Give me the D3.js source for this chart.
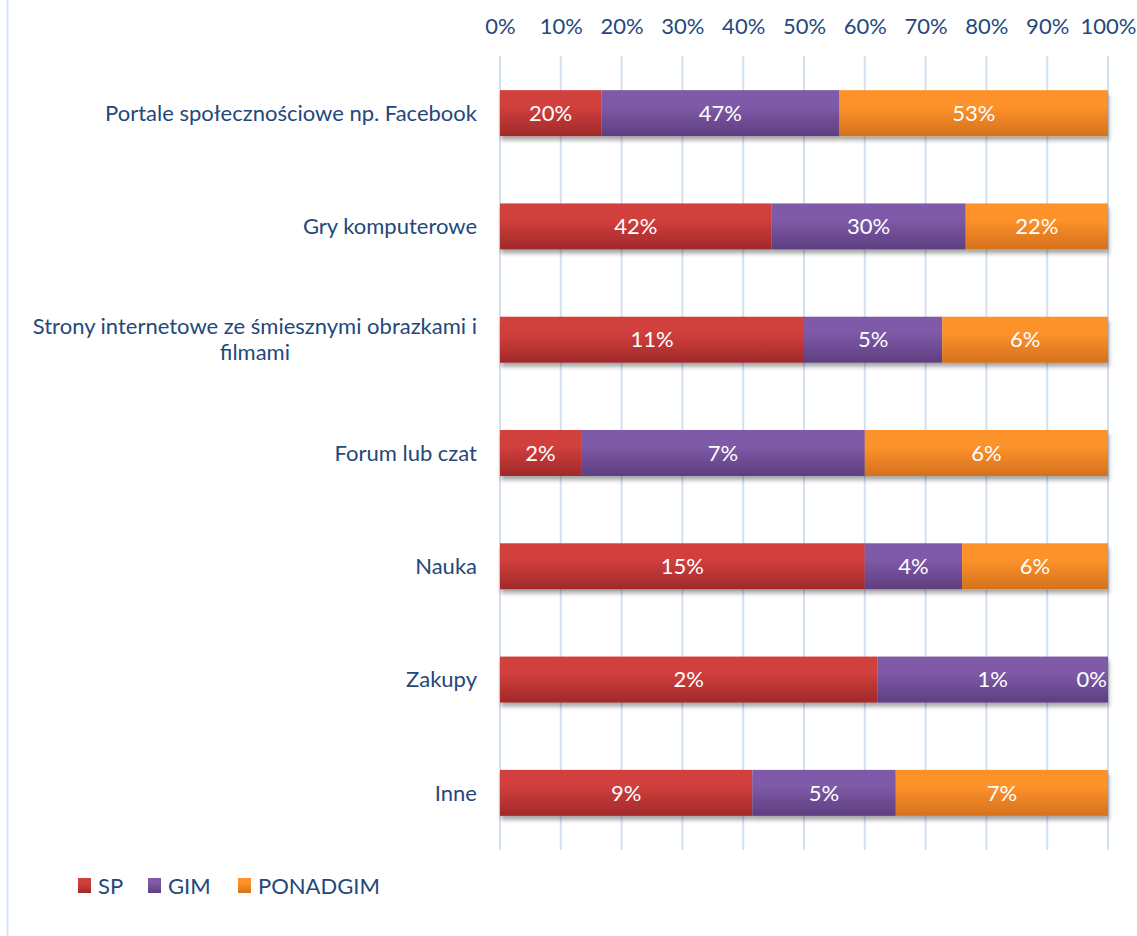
<!DOCTYPE html>
<html>
<head>
<meta charset="utf-8">
<script src="https://cdn.jsdelivr.net/npm/d3@7"></script>
<style>
  html, body { margin: 0; padding: 0; background: #fff; }
  svg { display: block; }
</style>
</head>
<body>
<svg id="chart" width="1137" height="936"></svg>
<script>
// Categories, top to bottom
const categories = [
  "Portale społecznościowe np. Facebook",
  "Gry komputerowe",
  "Strony internetowe ze śmiesznymi obrazkami i filmami",
  "Forum lub czat",
  "Nauka",
  "Zakupy",
  "Inne"
];
const seriesNames = ["SP", "GIM", "PONADGIM"];
// Share of answers per school level (percent)
const spValues       = [20, 42, 11, 2, 15, 1.8, 8.8];
const gimValues      = [47, 30, 5, 7, 4, 1.1, 5.0];
const ponadgimValues = [53, 22, 6, 6, 6, 0.0, 7.4];
const tickValues = [0, 0.1, 0.2, 0.3, 0.4, 0.5, 0.6, 0.7, 0.8, 0.9, 1.0];

const colors = {
  SP:       ["#d13f3d", "#a1292a"],
  GIM:      ["#7e5aa8", "#5e3e7f"],
  PONADGIM: ["#fe922b", "#d4711d"]
};
const textColor = "#24487a";
const font = "Lato, 'Open Sans', sans-serif";
const fontSize = 22;

const rows = categories.map((c, i) => ({
  category: c, SP: spValues[i], GIM: gimValues[i], PONADGIM: ponadgimValues[i]
}));

const svg = d3.select("#chart");

// Outer frame line on the left
svg.append("line")
  .attr("x1", 7.5).attr("x2", 7.5).attr("y1", 0).attr("y2", 936)
  .attr("stroke", "#d6e2f1").attr("stroke-width", 2);

const x = d3.scaleLinear().domain([0, 1]).range([500, 1108]);
const y = d3.scaleBand().domain(categories).range([56.5, 849.5]).paddingInner(0.594).paddingOuter(0.297);

const defs = svg.append("defs");
seriesNames.forEach(s => {
  const g = defs.append("linearGradient").attr("id", "grad-" + s)
    .attr("x1", 0).attr("y1", 0).attr("x2", 0).attr("y2", 1);
  g.append("stop").attr("offset", "0%").attr("stop-color", colors[s][0]);
  g.append("stop").attr("offset", "35%").attr("stop-color", colors[s][0]);
  g.append("stop").attr("offset", "100%").attr("stop-color", colors[s][1]);
});
const shadow = defs.append("filter").attr("id", "shadow")
  .attr("x", "-5%").attr("y", "-20%").attr("width", "110%").attr("height", "160%");
shadow.append("feDropShadow").attr("dx", 1).attr("dy", 4).attr("stdDeviation", 2.2)
  .attr("flood-color", "#000").attr("flood-opacity", 0.35);

// Vertical gridlines
svg.append("g").selectAll("line")
  .data(tickValues)
  .join("line")
  .attr("x1", d => x(d)).attr("x2", d => x(d))
  .attr("y1", 56).attr("y2", 850)
  .attr("stroke", "#d3e0f0").attr("stroke-width", 2);

// Top axis
const axis = svg.append("g")
  .attr("transform", "translate(0,34)")
  .call(d3.axisTop(x).tickValues(tickValues).tickFormat(d3.format(".0%")).tickSize(0).tickPadding(0));
axis.select(".domain").remove();
axis.selectAll("text")
  .attr("font-family", font).attr("font-size", fontSize).attr("fill", textColor)
  .attr("dy", 0);

// Stacked, normalised bars
const stack = d3.stack().keys(seriesNames).offset(d3.stackOffsetExpand);
const layers = stack(rows);

const barsG = svg.append("g").attr("filter", "url(#shadow)");
layers.forEach(layer => {
  barsG.append("g").selectAll("rect")
    .data(layer)
    .join("rect")
    .attr("x", d => x(d[0]))
    .attr("y", d => y(d.data.category))
    .attr("width", d => Math.max(0, x(d[1]) - x(d[0])))
    .attr("height", y.bandwidth())
    .attr("fill", "url(#grad-" + layer.key + ")");
});

// Value labels
const labelsG = svg.append("g");
layers.forEach(layer => {
  labelsG.append("g").selectAll("text")
    .data(layer)
    .join("text")
    .attr("y", d => y(d.data.category) + y.bandwidth() / 2)
    .attr("dy", "0.35em")
    .attr("text-anchor", "middle")
    .attr("font-family", font).attr("font-size", fontSize).attr("fill", "#fff")
    .text(d => Math.round(d.data[layer.key]) + "%")
    .attr("x", function(d) {
      const w = this.getComputedTextLength();
      const cx = (x(d[0]) + x(d[1])) / 2;
      return Math.min(cx, x(1) - w / 2 - 1);
    });
});

// Category labels, wrapped at the left margin
const maxLabelWidth = 455;
const labelRight = 477;
categories.forEach(c => {
  const cy = y(c) + y.bandwidth() / 2;
  const t = svg.append("text")
    .attr("font-family", font).attr("font-size", fontSize).attr("fill", textColor)
    .attr("text-anchor", "end").attr("x", labelRight).attr("y", cy).attr("dy", "0.35em")
    .text(c);
  if (t.node().getComputedTextLength() > maxLabelWidth) {
    const words = c.split(" ");
    let line1 = [], rest = [];
    for (let i = 0; i < words.length; i++) {
      t.text([...line1, words[i]].join(" "));
      if (t.node().getComputedTextLength() > maxLabelWidth) { rest = words.slice(i); break; }
      line1.push(words[i]);
    }
    t.text(line1.join(" "));
    const w = t.node().getComputedTextLength();
    const center = labelRight - w / 2;
    const lh = 26;
    t.attr("text-anchor", "middle").attr("x", center).attr("y", cy - lh / 2);
    svg.append("text")
      .attr("font-family", font).attr("font-size", fontSize).attr("fill", textColor)
      .attr("text-anchor", "middle").attr("x", center).attr("y", cy + lh / 2).attr("dy", "0.35em")
      .text(rest.join(" "));
  }
});

// Legend
const legend = svg.append("g");
const legendX = [78, 148, 238];
seriesNames.forEach((s, i) => {
  const g = legend.append("g").attr("transform", `translate(${legendX[i]},878)`);
  g.append("rect").attr("width", 13).attr("height", 15).attr("fill", "url(#grad-" + s + ")");
  g.append("text").attr("x", 20).attr("y", 8).attr("dy", "0.35em")
    .attr("font-family", font).attr("font-size", fontSize).attr("fill", textColor)
    .text(s);
});
</script>
</body>
</html>
